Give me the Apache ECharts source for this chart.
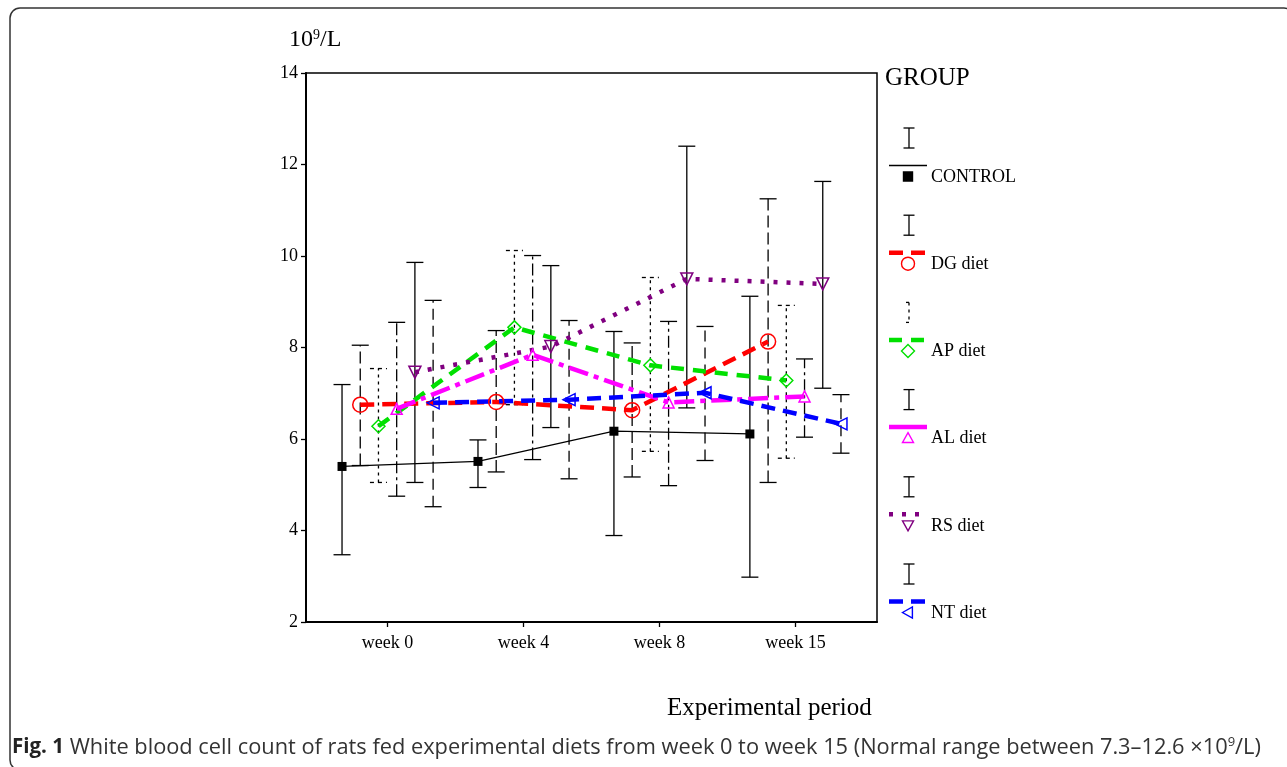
<!DOCTYPE html>
<html>
<head>
<meta charset="utf-8">
<script src="https://cdn.jsdelivr.net/npm/echarts@6/dist/echarts.min.js"></script>
<style>html,body{margin:0;padding:0;background:#fff;}#c{width:1287px;height:767px;}</style>
</head>
<body>
<div id="c"></div>
<script>
// ---- data ----
const weeks = ['week 0', 'week 4', 'week 8', 'week 15'];
const groups = ['CONTROL', 'DG diet', 'AP diet', 'AL diet', 'RS diet', 'NT diet'];
const yTicks = [2, 4, 6, 8, 10, 12, 14];

const controlMean = [5.40, 5.51, 6.17, 6.11];
const controlLow  = [3.47, 4.94, 3.89, 2.98];
const controlHigh = [7.19, 5.98, 8.35, 9.12];

const dgMean = [6.75, 6.81, 6.63, 8.13];
const dgLow  = [5.42, 5.28, 5.17, 5.05];
const dgHigh = [8.05, 8.37, 8.10, 11.25];

const apMean = [6.28, 8.44, 7.61, 7.28];
const apLow  = [5.05, 6.75, 5.73, 5.58];
const apHigh = [7.54, 10.12, 9.53, 8.92];

const alMean = [6.66, 7.84, 6.80, 6.93];
const alLow  = [4.75, 5.55, 4.98, 6.04];
const alHigh = [8.55, 10.01, 8.57, 7.75];

const rsMean = [7.46, 8.02, 9.50, 9.39];
const rsLow  = [5.05, 6.25, 6.68, 7.11];
const rsHigh = [9.86, 9.79, 12.40, 11.63];

const ntMean = [6.79, 6.86, 7.01, 6.33];
const ntLow  = [4.52, 5.13, 5.53, 5.69];
const ntHigh = [9.03, 8.59, 8.46, 6.97];

// ---- styles ----
const SERIF = 'Liberation Serif';
const groupStyle = [
  {mean: controlMean, low: controlLow, high: controlHigh, color: '#000000', width: 1.3, dash: 'solid', symbol: 'rect', size: 9, rot: 0, filled: true, barDash: null, capDash: null},
  {mean: dgMean, low: dgLow, high: dgHigh, color: '#ff0000', width: 4.5, dash: [14, 8], symbol: 'circle', size: 15, rot: 0, filled: false, barDash: [12, 5], capDash: null},
  {mean: apMean, low: apLow, high: apHigh, color: '#00e000', width: 4.5, dash: [13, 9], symbol: 'diamond', size: 13, rot: 0, filled: false, barDash: [3, 4], capDash: [4, 4]},
  {mean: alMean, low: alLow, high: alHigh, color: '#ff00ff', width: 4.5, dash: [20, 6, 5, 6], symbol: 'triangle', size: 11, rot: 0, filled: false, barDash: [12, 4, 3, 4], capDash: null},
  {mean: rsMean, low: rsLow, high: rsHigh, color: '#800080', width: 4.5, dash: [4, 9], symbol: 'triangle', size: 12, rot: 180, filled: false, barDash: null, capDash: null},
  {mean: ntMean, low: ntLow, high: ntHigh, color: '#0000ff', width: 4.5, dash: [14, 8], symbol: 'triangle', size: 12, rot: 90, filled: false, barDash: [11, 6], capDash: null}
];
const OFFSET = 0.134; // horizontal spread of groups within a week (axis units)

const series = [];
groupStyle.forEach((g, gi) => {
  const xs = weeks.map((w, wi) => wi + (gi - 2.5) * OFFSET);
  series.push({
    type: 'custom',
    name: groups[gi] + ' error',
    z: 1,
    silent: true,
    encode: {x: 0, y: [1, 2]},
    data: xs.map((x, i) => [x, g.low[i], g.high[i]]),
    renderItem: (params, api) => {
      const x = api.value(0);
      const pLo = api.coord([x, api.value(1)]);
      const pHi = api.coord([x, api.value(2)]);
      const hw = 8.5;
      const bar = {stroke: '#000', lineWidth: 1.3, fill: null, lineDash: g.barDash || null};
      const cap = {stroke: '#000', lineWidth: 1.3, fill: null, lineDash: g.capDash || null};
      return {type: 'group', children: [
        {type: 'line', shape: {x1: pLo[0], y1: pLo[1], x2: pHi[0], y2: pHi[1]}, style: bar},
        {type: 'line', shape: {x1: pHi[0] - hw, y1: pHi[1], x2: pHi[0] + hw, y2: pHi[1]}, style: cap},
        {type: 'line', shape: {x1: pLo[0] - hw, y1: pLo[1], x2: pLo[0] + hw, y2: pLo[1]}, style: cap}
      ]};
    }
  });
  series.push({
    type: 'line',
    name: groups[gi],
    z: gi === 0 ? 2 : 3,
    data: xs.map((x, i) => [x, g.mean[i]]),
    symbol: g.symbol,
    symbolSize: g.size,
    symbolRotate: g.rot,
    showAllSymbol: true,
    lineStyle: {color: g.color, width: g.width, type: g.dash, cap: 'butt'},
    itemStyle: g.filled ? {color: g.color, borderColor: g.color, borderWidth: 0}
                        : {color: 'rgba(255,255,255,0)', borderColor: g.color, borderWidth: 1.5},
    emphasis: {disabled: true}
  });
});

// ---- legend (drawn with graphic elements) ----
const graphics = [];
const LX = 909, L0 = 178, LSTEP = 87.2;
graphics.push({type: 'text', left: 885, top: 66, style: {text: 'GROUP', font: '25px "' + SERIF + '"', fill: '#000'}});
function legendSymbol(g, cx, cy) {
  const st = {fill: g.filled ? g.color : 'none', stroke: g.color, lineWidth: 1.4};
  if (g.symbol === 'rect') return {type: 'rect', shape: {x: cx - 4.5, y: cy - 4.5, width: 9, height: 9}, style: st};
  if (g.symbol === 'circle') return {type: 'circle', shape: {cx: cx, cy: cy, r: 6.5}, style: st};
  if (g.symbol === 'diamond') return {type: 'polygon', shape: {points: [[cx, cy - 6.5], [cx + 6.5, cy], [cx, cy + 6.5], [cx - 6.5, cy]]}, style: st};
  const s = 5.5;
  let pts;
  if (g.rot === 0) pts = [[cx, cy - s], [cx + s, cy + s * 0.8], [cx - s, cy + s * 0.8]];
  else if (g.rot === 180) pts = [[cx, cy + s], [cx + s, cy - s * 0.8], [cx - s, cy - s * 0.8]];
  else pts = [[cx - s, cy], [cx + s * 0.8, cy - s], [cx + s * 0.8, cy + s]];
  return {type: 'polygon', shape: {points: pts}, style: st};
}
groupStyle.forEach((g, gi) => {
  const ly = L0 + gi * LSTEP;
  const cs = {stroke: '#000', lineWidth: 1.3, lineDash: g.capDash || null};
  if (gi === 2) {
    graphics.push({type: 'line', shape: {x1: LX, y1: ly - 50, x2: LX, y2: ly - 30}, style: {stroke: '#000', lineWidth: 1.3, lineDash: [3, 4]}});
    graphics.push({type: 'line', shape: {x1: LX - 3, y1: ly - 50, x2: LX, y2: ly - 50}, style: {stroke: '#000', lineWidth: 1.3}});
    graphics.push({type: 'line', shape: {x1: LX - 3, y1: ly - 30, x2: LX, y2: ly - 30}, style: {stroke: '#000', lineWidth: 1.3}});
  } else {
    graphics.push({type: 'line', shape: {x1: LX, y1: ly - 50, x2: LX, y2: ly - 30}, style: {stroke: '#000', lineWidth: 1.3}});
    graphics.push({type: 'line', shape: {x1: LX - 5.5, y1: ly - 50, x2: LX + 5.5, y2: ly - 50}, style: cs});
    graphics.push({type: 'line', shape: {x1: LX - 5.5, y1: ly - 30, x2: LX + 5.5, y2: ly - 30}, style: cs});
  }
  graphics.push({type: 'line', shape: {x1: 889, y1: ly - 12.5, x2: 927, y2: ly - 12.5},
    style: {stroke: g.color, lineWidth: gi === 0 ? 1.3 : 4.5, lineDash: g.dash === 'solid' ? null : (gi === 3 ? null : g.dash)}});
  graphics.push(legendSymbol(g, 908, ly - 1.5));
  graphics.push({type: 'text', left: 931, top: ly - 10, style: {text: groups[gi], font: '18px "' + SERIF + '"', fill: '#000'}});
});

// axis titles, caption, frame
graphics.push({type: 'text', left: 289, top: 28, style: {
  text: '10{s|9}/L', font: '24px "' + SERIF + '"', fill: '#000',
  rich: {s: {fontSize: 14, fontFamily: SERIF, verticalAlign: 'top', padding: [0, 0, 10, 0]}}
}});
graphics.push({type: 'text', left: 667, top: 696, style: {text: 'Experimental period', font: '25px "' + SERIF + '"', fill: '#000'}});
graphics.push({type: 'text', left: 12, top: 736, style: {
  text: '{b|Fig. 1} White blood cell count of rats fed experimental diets from week 0 to week 15 (Normal range between 7.3–12.6 ×10{s|9}/L)',
  font: '21.8px "Open Sans"', fill: '#333',
  rich: {b: {fontWeight: 'bold', fontSize: 20.5, fontFamily: 'Open Sans', fill: '#222'}, s: {fontSize: 13, fontFamily: 'Open Sans', verticalAlign: 'top', padding: [0, 0, 10, 0]}}
}});
graphics.push({type: 'rect', shape: {x: 10, y: 8, width: 1284, height: 762, r: 10}, style: {fill: 'none', stroke: '#333', lineWidth: 1.5}, silent: true});

const chart = echarts.init(document.getElementById('c'), null, {renderer: 'canvas'});
chart.setOption({
  animation: false,
  backgroundColor: '#fff',
  grid: {left: 306, top: 73, right: 410, bottom: 145, show: true, borderColor: '#000', borderWidth: 1.5, backgroundColor: 'transparent'},
  xAxis: {
    type: 'value', min: -0.6, max: 3.6,
    axisLine: {show: true, onZero: false, lineStyle: {color: '#000', width: 2}},
    axisTick: {show: true, customValues: [0, 1, 2, 3], length: 5, lineStyle: {color: '#000', width: 1.3}},
    axisLabel: {customValues: [0, 1, 2, 3], formatter: v => weeks[Math.round(v)], color: '#000', fontFamily: SERIF, fontSize: 18, margin: 12},
    splitLine: {show: false}
  },
  yAxis: {
    type: 'value', min: yTicks[0], max: yTicks[yTicks.length - 1], interval: 2,
    axisLine: {show: true, onZero: false, lineStyle: {color: '#000', width: 2}},
    axisTick: {show: true, length: 5, lineStyle: {color: '#000', width: 1.3}},
    axisLabel: {color: '#000', fontFamily: SERIF, fontSize: 18, margin: 8, padding: [4, 0, 0, 0]},
    splitLine: {show: false}
  },
  series: series,
  graphic: graphics
});
</script>
</body>
</html>
